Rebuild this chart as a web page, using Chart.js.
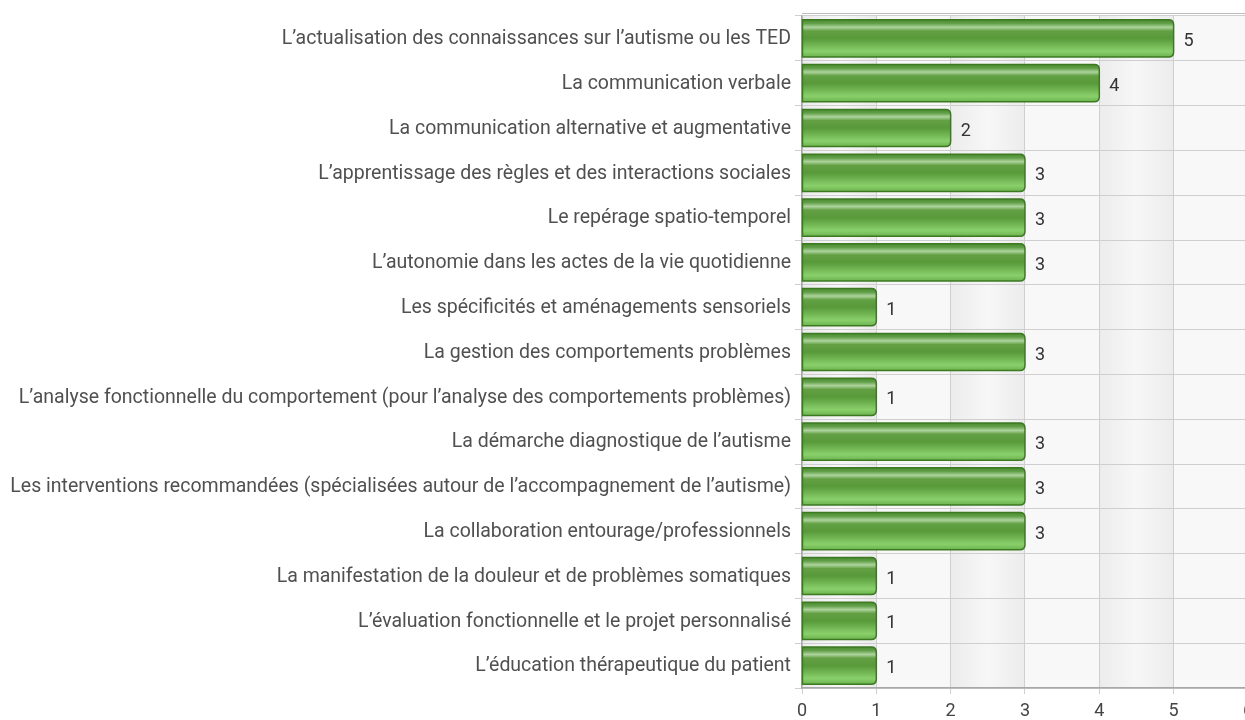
<!DOCTYPE html>
<html>
<head>
<meta charset="utf-8">
<script src="https://cdn.jsdelivr.net/npm/chart.js@4.4.1/dist/chart.umd.min.js"></script>
<style>
  html, body { margin: 0; padding: 0; background: #fff; overflow: hidden; }
  #wrap { width: 1260px; height: 740px; }
</style>
</head>
<body>
<div id="wrap"><canvas id="bar-chart" width="1260" height="740"></canvas></div>
<script>
const labels = [
  "L’actualisation des connaissances sur l’autisme ou les TED",
  "La communication verbale",
  "La communication alternative et augmentative",
  "L’apprentissage des règles et des interactions sociales",
  "Le repérage spatio-temporel",
  "L’autonomie dans les actes de la vie quotidienne",
  "Les spécificités et aménagements sensoriels",
  "La gestion des comportements problèmes",
  "L’analyse fonctionnelle du comportement (pour l’analyse des comportements problèmes)",
  "La démarche diagnostique de l’autisme",
  "Les interventions recommandées (spécialisées autour de l’accompagnement de l’autisme)",
  "La collaboration entourage/professionnels",
  "La manifestation de la douleur et de problèmes somatiques",
  "L’évaluation fonctionnelle et le projet personnalisé",
  "L’éducation thérapeutique du patient"
];
const counts = [5, 4, 2, 3, 3, 3, 1, 3, 1, 3, 3, 3, 1, 1, 1];
const xTicks = [0, 1, 2, 3, 4, 5, 6];
const shadedBands = [0, 2, 4];

const FONT = "Roboto, 'Liberation Sans', Arial, sans-serif";

// shaded vertical bands behind the grid
const bandsPlugin = {
  id: "bands",
  beforeDraw(chart) {
    const { ctx, chartArea: a, scales: { x } } = chart;
    ctx.save();
    ctx.fillStyle = "#f8f8f8";
    ctx.fillRect(a.left, a.top, a.right - a.left, a.bottom - a.top);
    shadedBands.forEach((b) => {
      const x0 = x.getPixelForValue(b);
      const x1 = x.getPixelForValue(b + 1);
      const g = ctx.createLinearGradient(x0, 0, x1, 0);
      g.addColorStop(0, "#ececec");
      g.addColorStop(0.5, "#f7f7f7");
      g.addColorStop(1, "#ececec");
      ctx.fillStyle = g;
      ctx.fillRect(x0, a.top, x1 - x0, a.bottom - a.top);
    });
    ctx.strokeStyle = "#bdbdbd";
    ctx.lineWidth = 1;
    ctx.beginPath();
    ctx.moveTo(a.left, a.top - 2.5);
    ctx.lineTo(a.right, a.top - 2.5);
    ctx.stroke();
    ctx.restore();
  }
};

function roundRect(ctx, x, y, w, h, r) {
  ctx.beginPath();
  ctx.moveTo(x, y);
  ctx.lineTo(x + w - r, y);
  ctx.quadraticCurveTo(x + w, y, x + w, y + r);
  ctx.lineTo(x + w, y + h - r);
  ctx.quadraticCurveTo(x + w, y + h, x + w - r, y + h);
  ctx.lineTo(x, y + h);
  ctx.closePath();
}

// glossy green bars + value labels
const glossPlugin = {
  id: "gloss",
  afterDatasetsDraw(chart) {
    const { ctx } = chart;
    const meta = chart.getDatasetMeta(0);
    ctx.save();
    meta.data.forEach((bar, i) => {
      const top = bar.y - bar.height / 2;
      const left = bar.base;
      const w = bar.x - bar.base;
      const h = bar.height;
      const g = ctx.createLinearGradient(0, top, 0, top + h);
      g.addColorStop(0, "#4a8a2e");
      g.addColorStop(0.1, "#62a049");
      g.addColorStop(0.2, "#aed49e");
      g.addColorStop(0.3, "#63a044");
      g.addColorStop(0.5, "#58993a");
      g.addColorStop(0.85, "#89d06b");
      g.addColorStop(1, "#6cb24e");
      roundRect(ctx, left, top, w, h, 5);
      ctx.fillStyle = g;
      ctx.fill();
      ctx.lineWidth = 1.5;
      ctx.strokeStyle = "#3c7a22";
      ctx.stroke();

      ctx.fillStyle = "#333";
      ctx.font = "18px " + FONT;
      ctx.textAlign = "left";
      ctx.textBaseline = "middle";
      ctx.fillText(String(counts[i]), bar.x + 10, bar.y + 3);
    });
    ctx.restore();
  }
};

new Chart("bar-chart", {
  type: "bar",
  data: {
    labels: labels,
    datasets: [{
      data: counts,
      backgroundColor: "rgba(0,0,0,0)",
      borderWidth: 0,
      barPercentage: 0.83,
      categoryPercentage: 1
    }]
  },
  options: {
    indexAxis: "y",
    responsive: false,
    animation: false,
    layout: { padding: { top: 16, left: 0, right: 10, bottom: 0 } },
    plugins: { legend: { display: false }, tooltip: { enabled: false } },
    scales: {
      x: {
        min: 0,
        max: 6,
        afterBuildTicks: (s) => { s.ticks = xTicks.map((v) => ({ value: v })); },
        afterFit: (s) => { s.height = 52; },
        grid: { color: "#cfcfcf", tickLength: 6 },
        border: { color: "#a8a8a8", width: 1.5 },
        ticks: { color: "#444", font: { family: FONT, size: 18 }, padding: 7 }
      },
      y: {
        afterFit: (s) => { s.width = 802; },
        grid: { color: "#cfcfcf", tickLength: 7 },
        border: { color: "#a8a8a8", width: 1.5 },
        ticks: { color: "#505050", font: { family: FONT, size: 19.5 }, padding: 4, labelOffset: 1 }
      }
    }
  },
  plugins: [bandsPlugin, glossPlugin]
});
</script>
</body>
</html>
